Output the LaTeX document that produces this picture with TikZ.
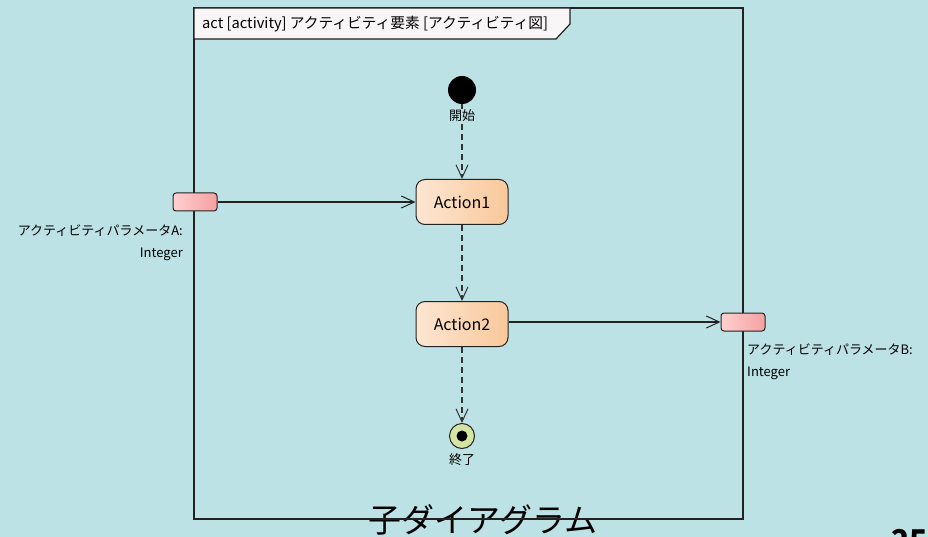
\documentclass[tikz,border=0pt]{standalone}
\usepackage{fontspec}
\setmainfont{Noto Sans CJK JP}
\usetikzlibrary{arrows.meta}
\definecolor{bg}{HTML}{BDE2E6}
\definecolor{actL}{HTML}{FDE6D2}
\definecolor{actR}{HTML}{F8C89A}
\definecolor{parL}{HTML}{FFD0D0}
\definecolor{parR}{HTML}{F5A0A0}
\definecolor{finalfill}{HTML}{D6E4A2}
\definecolor{tabfill}{HTML}{F8F6F6}
\definecolor{ln}{HTML}{222222}
\begin{document}
\begin{tikzpicture}[x=1pt,y=-1pt,
  action/.style={draw=ln, line width=1pt, rounded corners=9pt, minimum width=92pt, minimum height=45pt,
    left color=actL, right color=actR, font=\fontsize{16}{18}\selectfont, inner sep=0pt},
  param/.style={draw=ln, line width=1pt, rounded corners=3pt, minimum width=44pt, minimum height=18pt,
    left color=parL, right color=parR, inner sep=0pt},
  lbl/.style={font=\fontsize{13}{22}\selectfont, inner sep=1pt},
  ctrl/.style={draw=black!80, line width=1.4pt, dash pattern=on 6pt off 4pt,
    -{Straight Barb[length=13pt,width=12pt,line width=1pt]}},
  obj/.style={draw=ln, line width=1.1pt, -{Straight Barb[length=13pt,width=12pt,line width=1pt]}}
]
\useasboundingbox (0,0) rectangle (928,537);
\fill[bg] (0,0) rectangle (928,537);

% big bottom text and page number (cropped)
\node[anchor=base, font=\fontsize{33}{33}\selectfont, inner sep=0pt] (big) at (483,532) {子ダイアグラム};
\node[anchor=north west, font=\fontsize{30}{30}\selectfont\bfseries, inner sep=0pt] (pgno) at (891,529) {25};

% frame
\draw[ln, line width=1.4pt] (194,8) rectangle (743,519);
\path[fill=tabfill, draw=ln, line width=1.2pt] (194,8) -- (570,8) -- (570,24) -- (556,39) -- (194,39) -- cycle;
\node[anchor=west, font=\fontsize{14.7}{16}\selectfont, inner sep=0pt] (hdr) at (202,24) {act [activity] アクティビティ要素 [アクティビティ図]};

% nodes
\node[circle, fill=black, minimum size=28pt, inner sep=0pt] (init) at (462,90) {};
\node[action] (a1) at (462,202) {Action1};
\node[action] (a2) at (462,324) {Action2};
\node[circle, draw=ln, line width=1pt, fill=finalfill, minimum size=25pt, inner sep=0pt] (fin) at (462,436) {};
\fill[black] (fin) circle (5.5pt);

\node[param] (pA) at (195,202) {};
\node[param] (pB) at (743,322) {};

% edges
\draw[ctrl] (init) -- (a1);
\draw[ctrl] (a1) -- (a2);
\draw[ctrl] (a2) -- (fin);
\draw[obj] (pA) -- (a1);
\draw[obj] (a2.east |- pB) -- (pB);

% labels
\node[lbl, fill=bg] (lstart) at (462,116) {開始};
\node[lbl] (lend) at (462,460) {終了};
\node[lbl, anchor=east, align=right] (lA) at (184,243) {アクティビティパラメータA:\\Integer};
\node[lbl, anchor=west, align=left] (lB) at (746,362) {アクティビティパラメータB:\\Integer};
\end{tikzpicture}
\end{document}
